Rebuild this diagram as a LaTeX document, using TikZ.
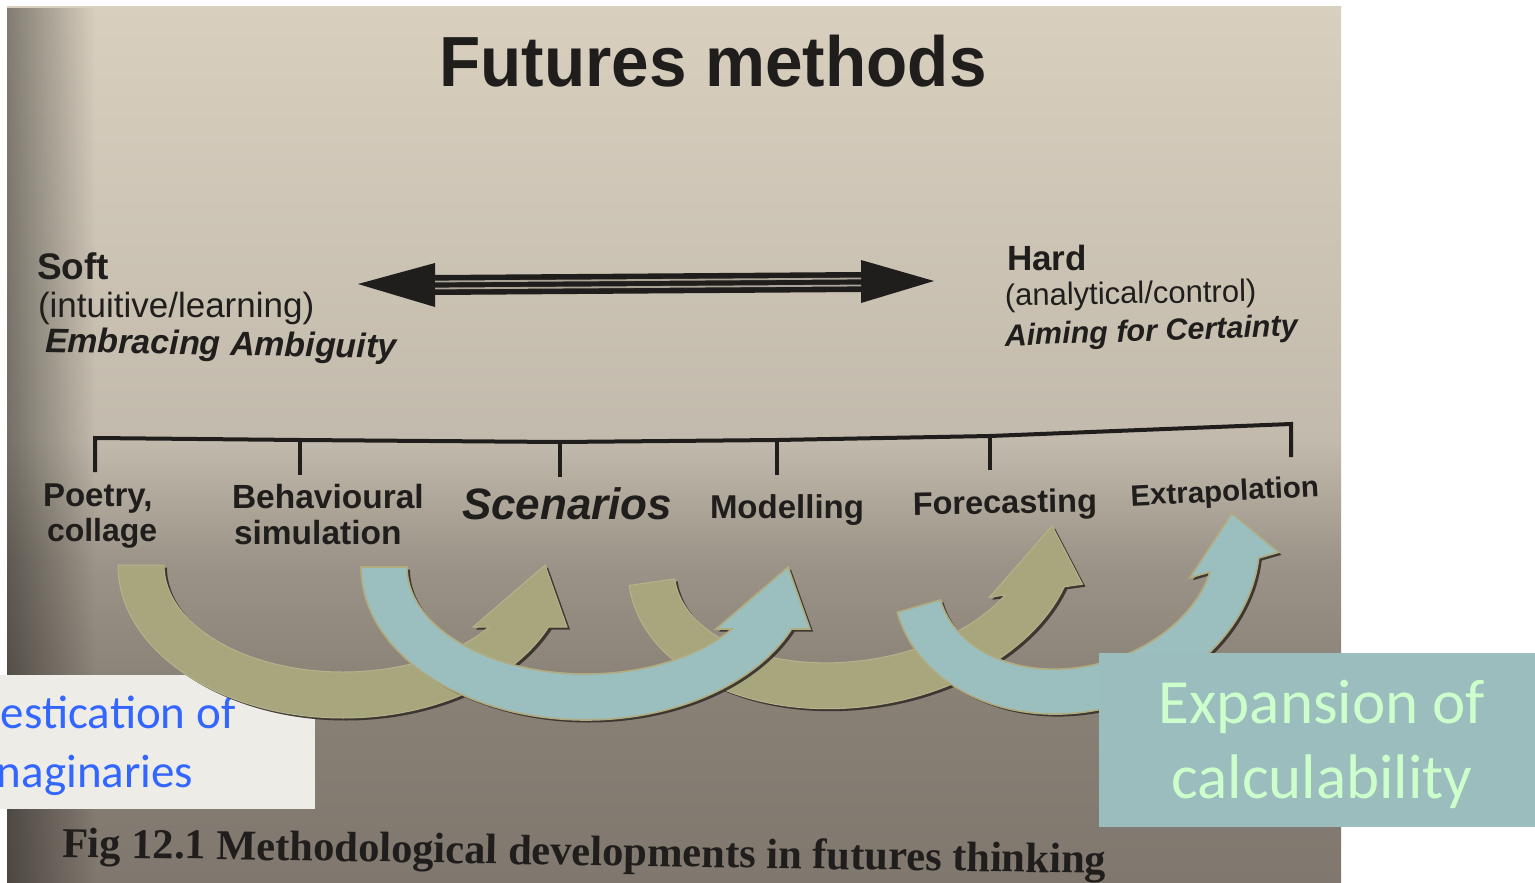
\documentclass[tikz,border=0pt]{standalone}
\usepackage{fontspec}
\usetikzlibrary{fadings}
\newfontfamily\bookfont{Liberation Sans}
\newfontfamily\titlefont[FakeStretch=0.95]{Liberation Sans}
\newfontfamily\capfont{Liberation Serif}
\newfontfamily\slidefont{Carlito}
\definecolor{inkdark}{RGB}{32,30,28}
\definecolor{pagetop}{RGB}{216,207,190}
\definecolor{pagemid}{RGB}{194,186,172}
\definecolor{pagelow}{RGB}{156,148,136}
\definecolor{pagedeep}{RGB}{136,127,117}
\definecolor{pagebot}{RGB}{128,119,110}
\definecolor{olivefill}{RGB}{168,166,124}
\definecolor{oliveedge}{RGB}{182,178,140}
\definecolor{tealfill}{RGB}{155,190,190}
\definecolor{tealedge}{RGB}{176,172,128}
\definecolor{shadowdark}{RGB}{52,48,42}
\definecolor{boxbeige}{RGB}{237,236,230}
\definecolor{boxteal}{RGB}{155,189,189}
\definecolor{textblue}{RGB}{51,102,255}
\definecolor{textgreen}{RGB}{204,255,204}
\definecolor{shaftgap}{RGB}{170,164,152}
\pgfdeclareverticalshading{pageshade}{100bp}{color(0bp)=(pagebot); color(25bp)=(pagebot); color(35.4bp)=(pagedeep); color(43.4bp)=(pagelow); color(50.3bp)=(pagemid); color(75bp)=(pagetop); color(100bp)=(pagetop)}
\tikzfading[name=fadeleftdark, left color=transparent!0, right color=transparent!100]

% arc arrow outline in local coordinates (ellipse centre at origin)
\newcommand\arcarrowpath{(-\aoutx,0) arc[start angle=180, end angle={asin(\ahb/\aouty)}, x radius=\aoutx, y radius=\aouty] -- (\ahr,\ahb) -- (\atx,\aty) -- (\ahl,\ahb) -- ({\ainx*cos(asin(\ahb/\ainy))},\ahb) arc[start angle={asin(\ahb/\ainy)}, end angle=180, x radius=\ainx, y radius=\ainy] -- cycle}
\newcommand\bigarrowparams{\def\aoutx{225}\def\aouty{153}\def\ainx{179}\def\ainy{107}\def\ahb{62}\def\ahl{130}\def\ahr{224}\def\atx{202}\def\aty{0}}
\newcommand\smallarrowparams{\def\aoutx{186}\def\aouty{150}\def\ainx{141}\def\ainy{105}\def\ahb{47.5}\def\ahl{105}\def\ahr{197}\def\atx{163}\def\aty{-3}}
\newcommand\placearrow[3]{%
  \begin{scope}[shift={#2}]
    \fill[arrowshadow, xshift=3pt, yshift=-2.5pt, rotate=#3] \arcarrowpath;
    \path[#1, rotate=#3] \arcarrowpath;
  \end{scope}}

\begin{document}
\begin{tikzpicture}[x=1pt, y=-1pt,
  booktext/.style={text=inkdark, inner sep=0pt, outer sep=0pt, anchor=base west},
  bracketline/.style={draw=inkdark, line width=4pt, line join=miter},
  tickline/.style={draw=inkdark, line width=3.5pt},
  arrowshadow/.style={fill=shadowdark, fill opacity=0.9},
  olivearrow/.style={fill=olivefill, draw=oliveedge, line width=1pt},
  tealarrow/.style={fill=tealfill, draw=tealedge, line width=1.6pt},
  slidebox/.style={inner sep=0pt, outer sep=0pt, anchor=north west}]
\useasboundingbox (0,0) rectangle (1535,883);
\fill[white] (0,0) rectangle (1535,883);
% photographed page
\shade[shading=pageshade] (7,7) rectangle (1341,883);
\fill[black, path fading=fadeleftdark, fill opacity=0.4] (7,7) rectangle (95,883);

% title
\node[booktext, anchor=base, font=\titlefont\bfseries\fontsize{71}{80}\selectfont] (title) at (713,86) {Futures methods};

% double arrow
\coordinate (dl) at (435,285);
\coordinate (dr) at (861,282);
\coordinate (dltip) at (358,284);
\coordinate (drtip) at (934,281);
\fill[inkdark] (dltip) -- (435,263) -- (435,307) -- cycle;
\fill[inkdark] (drtip) -- (861,260) -- (861,303) -- cycle;
\draw[inkdark, line width=20pt] (dl) -- (dr);
\draw[shaftgap, line width=1.8pt] ([yshift=3.5pt]dl) -- ([yshift=3.5pt]dr);
\draw[shaftgap, line width=1.8pt] ([yshift=-3.5pt]dl) -- ([yshift=-3.5pt]dr);

% soft / hard
\node[booktext, font=\bookfont\bfseries\fontsize{37}{44}\selectfont] (soft) at (37,279) {Soft};
\node[booktext, font=\bookfont\fontsize{35}{42}\selectfont] (softsub) at (38,317) {(intuitive/learning)};
\node[booktext, font=\bookfont\bfseries\itshape\fontsize{34}{40}\selectfont, rotate=-1] (softaim) at (45,352) {Embracing Ambiguity};
\node[booktext, font=\bookfont\bfseries\fontsize{35}{42}\selectfont] (hard) at (1007,270) {Hard};
\node[booktext, font=\bookfont\fontsize{31}{38}\selectfont, rotate=1] (hardsub) at (1005,306) {(analytical/control)};
\node[booktext, font=\bookfont\bfseries\itshape\fontsize{30.5}{37}\selectfont, rotate=2] (hardaim) at (1005,346) {Aiming for Certainty};

% bracket
\coordinate (b1) at (95,438);
\coordinate (b2) at (300,440);
\coordinate (b3) at (560,442);
\coordinate (b4) at (777,440);
\coordinate (b5) at (990,436);
\coordinate (b6) at (1291,424);
\coordinate (t1) at (95,472);
\coordinate (t2) at (300,475);
\coordinate (t3) at (560,477);
\coordinate (t4) at (777,475);
\coordinate (t5) at (990,470);
\coordinate (t6) at (1291,457);
\draw[bracketline] (t1) -- (b1) -- (b2) -- (b3) -- (b4) -- (b5) -- (b6) -- (t6);
\draw[tickline] (b2) -- (t2);
\draw[tickline] (b3) -- (t3);
\draw[tickline] (b4) -- (t4);
\draw[tickline] (b5) -- (t5);

% method labels
\node[booktext, font=\bookfont\bfseries\fontsize{33}{40}\selectfont] (poetry) at (43,506) {Poetry,};
\node[booktext, font=\bookfont\bfseries\fontsize{32}{40}\selectfont] (collage) at (47,541) {collage};
\node[booktext, font=\bookfont\bfseries\fontsize{33.5}{40}\selectfont] (behav) at (232,508) {Behavioural};
\node[booktext, font=\bookfont\bfseries\fontsize{33.5}{40}\selectfont] (simul) at (234,544) {simulation};
\node[booktext, font=\bookfont\bfseries\itshape\fontsize{44}{50}\selectfont] (scen) at (462,519) {Scenarios};
\node[booktext, font=\bookfont\bfseries\fontsize{33}{40}\selectfont] (model) at (710,518) {Modelling};
\node[booktext, font=\bookfont\bfseries\fontsize{32.5}{40}\selectfont, rotate=1] (forec) at (913,515) {Forecasting};
\node[booktext, font=\bookfont\bfseries\fontsize{29.5}{36}\selectfont, rotate=3] (extra) at (1131,506) {Extrapolation};

% caption
\node[booktext, font=\capfont\bfseries\fontsize{42.5}{50}\selectfont, rotate=-0.9] (caption) at (62,857) {Fig 12.1 Methodological developments in futures thinking};

% left slide box
\node[slidebox, fill=boxbeige, minimum width=315pt, minimum height=134pt] (leftbox) at (0,675) {};
\node[booktext, text=textblue, font=\slidefont\fontsize{47}{56}\selectfont] (dom1) at (1,728) {estication of};
\node[booktext, text=textblue, font=\slidefont\fontsize{47}{56}\selectfont] (dom2) at (-3,787) {naginaries};

% curved arrows
\bigarrowparams
\placearrow{olivearrow}{(343,565)}{0}
\placearrow{olivearrow}{(852,554)}{8}
\placearrow{tealarrow}{(586,567)}{0}
\smallarrowparams
\placearrow{tealarrow}{(1076,561)}{16}

% right slide box
\node[slidebox, fill=boxteal, minimum width=436pt, minimum height=174pt] (rightbox) at (1099,653) {};
\node[booktext, anchor=base, text=textgreen, font=\slidefont\fontsize{63}{75}\selectfont] (exp1) at (1322,723) {Expansion of};
\node[booktext, anchor=base, text=textgreen, font=\slidefont\fontsize{63}{75}\selectfont] (exp2) at (1322,798) {calculability};
\end{tikzpicture}
\end{document}
